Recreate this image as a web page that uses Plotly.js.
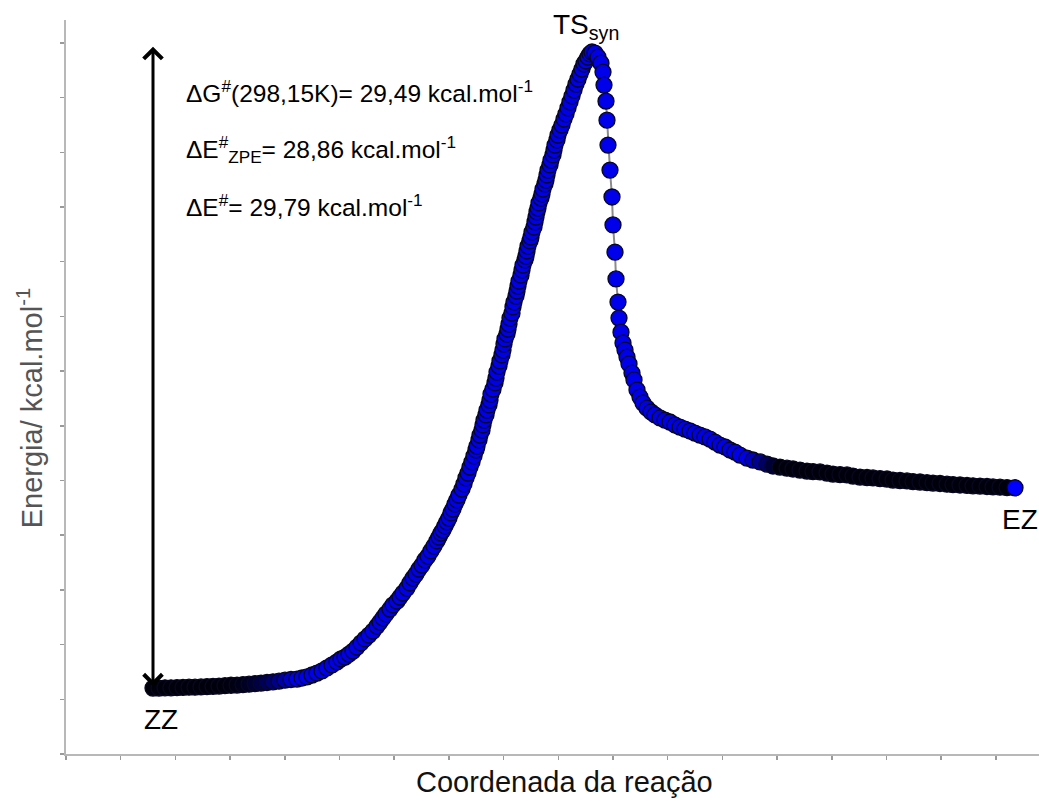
<!DOCTYPE html>
<html><head><meta charset="utf-8">
<script src="https://cdn.plot.ly/plotly-3.0.1.min.js"></script>
<style>html,body{margin:0;padding:0;background:#fff;}#chart{width:1039px;height:802px;}</style>
</head><body><div id="chart"></div>
<script>
// Reaction coordinate (arbitrary units, TS at 0) and relative energy (kcal/mol, ZZ = 0)
const plateauCoord = [-8.78,-8.66,-8.54,-8.42,-8.30,-8.18,-8.06,-7.94,-7.82,-7.70,
  -7.58,-7.46,-7.34,-7.22,-7.10,-6.98,-6.86,-6.74,-6.62,-6.50,
  -6.38,-6.26,-6.14,-6.02,-5.90];
const plateauEnergy = [0.00,0.00,0.01,0.01,0.02,0.03,0.04,0.04,0.05,0.07,
  0.08,0.09,0.11,0.13,0.14,0.16,0.18,0.21,0.23,0.26,
  0.29,0.32,0.37,0.40,0.42];

const risingCoord = [-5.80,-5.70,-5.60,-5.50,-5.40,-5.30,-5.20,-5.10,-5.02,-4.94,
  -4.86,-4.78,-4.70,-4.62,-4.54,-4.46,-4.38,-4.30,-4.24,-4.18,
  -4.12,-4.04,-3.98,-3.90,-3.84,-3.78,-3.70,-3.64,-3.58,-3.52,
  -3.46,-3.40,-3.34,-3.28,-3.22,-3.16,-3.10,-3.06,-3.02,-2.98,
  -2.94,-2.90,-2.86,-2.82,-2.78,-2.74,-2.70,-2.66,-2.60,-2.56,
  -2.52,-2.48,-2.44,-2.40,-2.36,-2.32,-2.30,-2.26,-2.24,-2.20,
  -2.18,-2.16,-2.12,-2.10,-2.06,-2.04,-2.02,-1.98,-1.94,-1.92,
  -1.90,-1.86,-1.84,-1.80,-1.78,-1.76,-1.74,-1.70,-1.68,-1.66,
  -1.64,-1.60,-1.58,-1.56,-1.52,-1.50,-1.48,-1.46,-1.42,-1.40,
  -1.38,-1.34,-1.32,-1.30,-1.28,-1.24,-1.22,-1.20,-1.16,-1.14,
  -1.12,-1.10,-1.08,-1.06,-1.02,-1.00,-0.98,-0.94,-0.92,-0.90,
  -0.88,-0.84,-0.82,-0.78,-0.76,-0.74,-0.70,-0.68,-0.64,-0.60,
  -0.56,-0.52,-0.48,-0.44,-0.40,-0.36,-0.32,-0.28,-0.24,-0.20,
  -0.16,-0.12,-0.08,-0.04,0.00];
const risingEnergy = [0.47,0.52,0.61,0.70,0.80,0.94,1.08,1.22,1.36,1.45,
  1.59,1.73,1.92,2.11,2.30,2.48,2.67,2.90,3.09,3.28,
  3.47,3.70,3.89,4.07,4.26,4.45,4.68,4.92,5.15,5.34,
  5.57,5.76,6.00,6.18,6.42,6.65,6.89,7.07,7.26,7.40,
  7.59,7.78,7.96,8.20,8.38,8.62,8.81,9.04,9.32,9.56,
  9.84,10.07,10.35,10.59,10.87,11.15,11.33,11.62,11.85,12.08,
  12.32,12.55,12.79,13.02,13.26,13.49,13.77,14.00,14.29,14.52,
  14.80,15.08,15.32,15.60,15.83,16.11,16.35,16.58,16.81,17.05,
  17.33,17.56,17.85,18.08,18.36,18.59,18.83,19.06,19.34,19.58,
  19.81,20.05,20.23,20.47,20.70,20.94,21.12,21.36,21.59,21.83,
  22.06,22.30,22.48,22.72,22.95,23.14,23.37,23.61,23.79,24.03,
  24.26,24.50,24.73,24.97,25.20,25.43,25.67,25.90,26.14,26.37,
  26.65,26.89,27.17,27.45,27.73,28.01,28.29,28.52,28.76,28.99,
  29.23,29.37,29.55,29.70,29.79];

const descentCoord = [0.06,0.12,0.18,0.22,0.24,0.28,0.30,0.32,0.36,0.40,
  0.42,0.46,0.48,0.52,0.54,0.58,0.62,0.66,0.70,0.74,
  0.80,0.84,0.90,0.96,1.02,1.10,1.18,1.26,1.36,1.46,
  1.56,1.66,1.76,1.86,1.96,2.06,2.16,2.26,2.36,2.46,
  2.56,2.66,2.76,2.86,2.96,3.10];
const descentEnergy = [29.74,29.55,29.27,28.85,28.24,27.49,26.60,25.43,24.26,23.00,
  21.69,20.42,19.16,18.08,17.33,16.67,16.16,15.83,15.50,15.18,
  14.75,14.43,13.96,13.63,13.35,13.11,12.93,12.79,12.65,12.55,
  12.46,12.32,12.22,12.13,12.04,11.94,11.85,11.76,11.66,11.52,
  11.38,11.29,11.15,11.05,10.91,10.77];

const tailCoord = [3.22,3.36,3.50,3.62,3.76,3.90,4.02,4.16,4.30,4.42,
  4.56,4.70,4.82,4.96,5.10,5.22,5.36,5.50,5.62,5.76,
  5.90,6.02,6.16,6.30,6.42,6.56,6.70,6.82,6.96,7.10,
  7.22,7.36,7.50,7.62,7.76,7.90,8.02,8.16,8.30,8.46];
const tailEnergy = [10.68,10.59,10.49,10.40,10.35,10.30,10.26,10.21,10.16,10.14,
  10.12,10.07,10.02,10.00,9.98,9.93,9.88,9.86,9.84,9.81,
  9.79,9.74,9.72,9.70,9.67,9.65,9.62,9.60,9.58,9.55,
  9.53,9.51,9.49,9.47,9.46,9.44,9.42,9.41,9.39,9.38];

const stateLabels = ['ZZ', 'TS<sub>syn</sub>', 'EZ'];
const barrierLabels = ['ΔG<sup>#</sup>(298,15K)', 'ΔE<sup>#</sup><sub>ZPE</sub>', 'ΔE<sup>#</sup>'];
const barrierValues = [29.49, 28.86, 29.79];
const xTitle = 'Coordenada da reação';
const yTitle = 'Energia/ kcal.mol<sup>-1</sup>';

// ---- styling ----
const FONT = 'Liberation Sans, Arial, Helvetica, sans-serif';
const BLUE = [0, 0, 235];
const DARK = [0, 0, 12];
function mix(a, b, t) {
  t = Math.max(0, Math.min(1, t));
  return 'rgb(' + a.map((v, i) => Math.round(v + (b[i] - v) * t)).join(',') + ')';
}
const plateauColors = plateauCoord.map((_, i) => {
  const t = i / (plateauCoord.length - 1);
  const u = Math.max(0, (t - 0.5) / 0.5);
  return mix(DARK, BLUE, u * u);
});
const tailColors = tailCoord.map((_, i) =>
  i === tailCoord.length - 1 ? 'rgb(0,0,255)' : mix(BLUE, DARK, (i + 1) / 5));

const MSIZE = 16;
const outline = {color: '#070720', width: 1.3};

const allCoord = plateauCoord.concat(risingCoord, descentCoord, tailCoord);
const allEnergy = plateauEnergy.concat(risingEnergy, descentEnergy, tailEnergy);

const traces = [
  {x: allCoord, y: allEnergy, mode: 'lines', line: {color: '#8c8c8c', width: 2}, hoverinfo: 'skip'},
  {x: plateauCoord, y: plateauEnergy, mode: 'markers', marker: {size: MSIZE, color: plateauColors, line: outline}},
  {x: risingCoord, y: risingEnergy, mode: 'markers', marker: {size: MSIZE, color: mix(BLUE, BLUE, 0), line: outline}},
  {x: descentCoord, y: descentEnergy, mode: 'markers', marker: {size: MSIZE, color: mix(BLUE, BLUE, 0), line: outline}},
  {x: tailCoord, y: tailEnergy, mode: 'markers', marker: {size: MSIZE, color: tailColors, line: outline}}
];

const zzX = plateauCoord[0], zzE = plateauEnergy[0];
const tsIdx = risingEnergy.indexOf(Math.max(...risingEnergy));
const tsX = risingCoord[tsIdx], tsE = risingEnergy[tsIdx];
const ezX = tailCoord[tailCoord.length - 1], ezE = tailEnergy[tailEnergy.length - 1];

const fmt = v => v.toFixed(2).replace('.', ',');
const barrierY = [0.903, 0.824, 0.747];

const annotations = [
  {x: zzX, y: tsE + 0.25, ax: zzX, ay: zzE, xref: 'x', yref: 'y', axref: 'x', ayref: 'y',
   text: '', showarrow: true, arrowside: 'end+start', arrowhead: 4, startarrowhead: 4,
   arrowsize: 1.2, startarrowsize: 1.2, arrowwidth: 3, arrowcolor: '#000', standoff: 0, startstandoff: 0},
  {x: zzX, y: zzE, xref: 'x', yref: 'y', text: stateLabels[0], showarrow: false,
   xanchor: 'center', yanchor: 'middle', xshift: 8, yshift: -31, font: {family: FONT, size: 28, color: '#000'}},
  {x: tsX, y: tsE, xref: 'x', yref: 'y', text: stateLabels[1], showarrow: false,
   xanchor: 'center', yanchor: 'bottom', xshift: -6, yshift: 6, font: {family: FONT, size: 28, color: '#000'}},
  {x: ezX, y: ezE, xref: 'x', yref: 'y', text: stateLabels[2], showarrow: false,
   xanchor: 'center', yanchor: 'middle', xshift: 5, yshift: -32, font: {family: FONT, size: 28, color: '#000'}},
  {x: 0.512, y: -0.038, xref: 'paper', yref: 'paper', text: xTitle, showarrow: false,
   xanchor: 'center', yanchor: 'middle', font: {family: FONT, size: 29, color: '#111'}},
  {x: -0.037, y: 0.471, xref: 'paper', yref: 'paper', text: yTitle, showarrow: false, textangle: -90,
   xanchor: 'center', yanchor: 'middle', font: {family: FONT, size: 29, color: '#555'}}
];
barrierLabels.forEach((lab, i) => {
  annotations.push({x: 0.121, y: barrierY[i], xref: 'paper', yref: 'paper',
    text: lab + '= ' + fmt(barrierValues[i]) + ' kcal.mol<sup>-1</sup>', showarrow: false,
    xanchor: 'left', yanchor: 'middle', font: {family: FONT, size: 24.5, color: '#000'}});
});

const axisCommon = {
  showline: true, linecolor: '#b8b8b8', linewidth: 2, mirror: false,
  ticks: 'outside', ticklen: 4, tickwidth: 1.5, tickcolor: '#9a9a9a',
  showticklabels: false, showgrid: false, zeroline: false, tickmode: 'linear', fixedrange: true
};

const layout = {
  width: 1039, height: 802,
  margin: {l: 66, r: 0, t: 20, b: 48},
  paper_bgcolor: '#fff', plot_bgcolor: '#fff',
  showlegend: false,
  font: {family: FONT},
  xaxis: Object.assign({}, axisCommon, {range: [-10.52, 8.94], tick0: -10.52, dtick: 1.094}),
  yaxis: Object.assign({}, axisCommon, {range: [-3.09, 31.29], tick0: -3.09, dtick: 2.562}),
  annotations: annotations
};

Plotly.newPlot('chart', traces, layout, {displayModeBar: false, staticPlot: true});
</script>
</body></html>
